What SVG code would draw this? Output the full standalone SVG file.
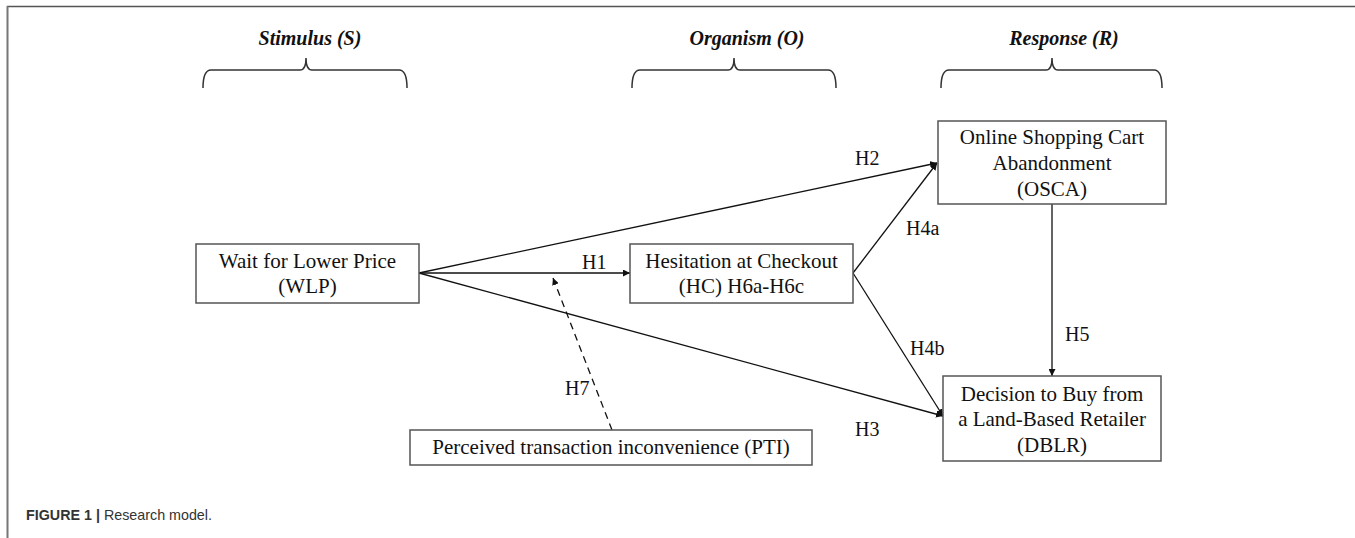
<svg xmlns="http://www.w3.org/2000/svg" width="1355" height="538" viewBox="0 0 1355 538">
<style>
.box{fill:#fff;stroke:#555;stroke-width:1.5}
.t{font-family:"Liberation Serif",serif;font-size:21px;fill:#111;text-anchor:middle}
.lbl{font-family:"Liberation Serif",serif;font-size:20px;fill:#111}
.hd{font-family:"Liberation Serif",serif;font-size:20px;font-weight:bold;font-style:italic;fill:#111;text-anchor:middle}
.ln{stroke:#111;stroke-width:1.3;fill:none}
.br{stroke:#333;stroke-width:1.5;fill:none}
</style>
<defs>
<marker id="ah" viewBox="0 0 10 10" refX="10" refY="5" markerWidth="7" markerHeight="7" markerUnits="userSpaceOnUse" orient="auto">
<path d="M0,0 L10,5 L0,10 z" fill="#111"/>
</marker>
</defs>
<rect width="1355" height="538" fill="#fff"/>
<g id="frame">
<line x1="7" y1="6.5" x2="1355" y2="6.5" stroke="#555" stroke-width="1.5"/>
<line x1="7.5" y1="6" x2="7.5" y2="538" stroke="#777" stroke-width="2"/>
</g>
<g id="headers">
<text class="hd" x="310" y="45">Stimulus (S)</text>
<path class="br" d="M203,88 Q203,70 211,70 L300,70 Q306,70 306,58 Q306,70 312,70 L399,70 Q407,70 407,88"/>
<text class="hd" x="747" y="45">Organism (O)</text>
<path class="br" d="M632,88 Q632,70 640,70 L728,70 Q734,70 734,58 Q734,70 740,70 L828,70 Q836,70 836,88"/>
<text class="hd" x="1064" y="45">Response (R)</text>
<path class="br" d="M941,88 Q941,70 949,70 L1046,70 Q1052,70 1052,58 Q1052,70 1058,70 L1154,70 Q1162,70 1162,88"/>
</g>
<g id="connectors">
<line class="ln" x1="419" y1="273" x2="630" y2="273" marker-end="url(#ah)"/>
<line class="ln" x1="419" y1="273" x2="937" y2="163" marker-end="url(#ah)"/>
<line class="ln" x1="419" y1="273" x2="943" y2="416" marker-end="url(#ah)"/>
<line class="ln" x1="853" y1="273" x2="937" y2="163" marker-end="url(#ah)"/>
<line class="ln" x1="853" y1="273" x2="943" y2="416" marker-end="url(#ah)"/>
<line class="ln" x1="1052" y1="204" x2="1052" y2="376" marker-end="url(#ah)"/>
<line class="ln" x1="612" y1="430" x2="553" y2="278" stroke-dasharray="7,5" marker-end="url(#ah)"/>
<text class="lbl" x="582" y="269">H1</text>
<text class="lbl" x="855" y="165">H2</text>
<text class="lbl" x="855" y="436">H3</text>
<text class="lbl" x="906" y="235">H4a</text>
<text class="lbl" x="910" y="355">H4b</text>
<text class="lbl" x="1065" y="341">H5</text>
<text class="lbl" x="565" y="395">H7</text>
</g>
<g id="WLP">
<rect class="box" x="196" y="244" width="223" height="59"/>
<text class="t" x="307.5" y="268">Wait for Lower Price</text>
<text class="t" x="307.5" y="293">(WLP)</text>
</g>
<g id="HC">
<rect class="box" x="630" y="244" width="223" height="59"/>
<text class="t" x="741.5" y="268">Hesitation at Checkout</text>
<text class="t" x="741.5" y="293">(HC) H6a-H6c</text>
</g>
<g id="OSCA">
<rect class="box" x="938" y="121" width="228" height="83"/>
<text class="t" x="1052" y="144">Online Shopping Cart</text>
<text class="t" x="1052" y="170">Abandonment</text>
<text class="t" x="1052" y="196">(OSCA)</text>
</g>
<g id="DBLR">
<rect class="box" x="943" y="376" width="218" height="85"/>
<text class="t" x="1052" y="401">Decision to Buy from</text>
<text class="t" x="1052" y="426">a Land-Based Retailer</text>
<text class="t" x="1052" y="452">(DBLR)</text>
</g>
<g id="PTI">
<rect class="box" x="410" y="430" width="402" height="35"/>
<text class="t" x="611" y="454">Perceived transaction inconvenience (PTI)</text>
</g>
<g id="caption">
<text x="26" y="520" style="font-family:'Liberation Sans',Arial,sans-serif;font-size:14.3px;fill:#333"><tspan font-weight="bold">FIGURE 1 | </tspan>Research model.</text>
</g>
</svg>
